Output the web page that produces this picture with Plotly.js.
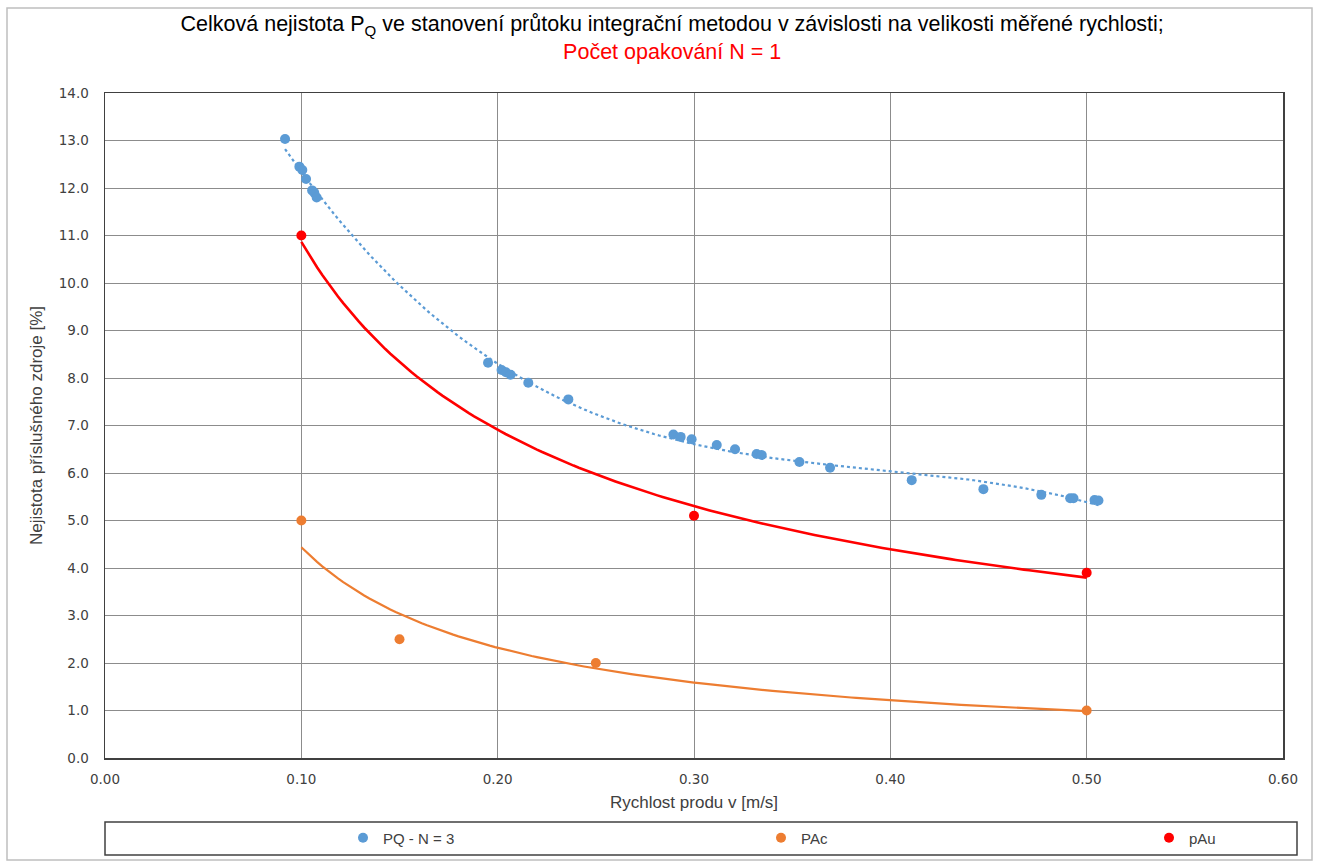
<!DOCTYPE html>
<html>
<head>
<meta charset="utf-8">
<script src="https://cdn.plot.ly/plotly-3.0.1.min.js"></script>
<style>html,body{margin:0;padding:0;background:#fff;}#chart{width:1318px;height:861px;}</style>
</head>
<body>
<div id="chart"></div>
<script>
// ---- data ----
const pqX = [0.0917, 0.0990, 0.1005, 0.1024, 0.1055, 0.1066, 0.1078,
             0.1951, 0.2020, 0.2042, 0.2066, 0.2156, 0.2360,
             0.2895, 0.2932, 0.2988, 0.3116, 0.3209, 0.3319, 0.3345,
             0.3537, 0.3693, 0.4109, 0.4474, 0.4769, 0.4916, 0.4933, 0.5040, 0.5060];
const pqY = [13.03, 12.45, 12.38, 12.19, 11.95, 11.90, 11.80,
             8.32, 8.17, 8.12, 8.07, 7.90, 7.55,
             6.81, 6.76, 6.71, 6.59, 6.50, 6.40, 6.38,
             6.23, 6.11, 5.85, 5.66, 5.54, 5.47, 5.47, 5.43, 5.42];
const pacX = [0.10, 0.15, 0.25, 0.50];
const pacY = [5.0, 2.5, 2.0, 1.0];
const pauX = [0.10, 0.30, 0.50];
const pauY = [11.0, 5.1, 3.9];

const seriesNames = ['PQ - N = 3', 'PAc', 'pAu'];
const colors = ['#5B9BD5', '#ED7D31', '#FF0000'];

function sampleRange(xs, n) {
  const x0 = Math.min(...xs), x1 = Math.max(...xs), out = [];
  for (let i = 0; i <= n; i++) out.push(x0 + (x1 - x0) * i / n);
  return out;
}
// power trendline (least squares in log-log space)
function powerTrend(xs, ys, n) {
  const lx = xs.map(Math.log), ly = ys.map(Math.log);
  const m = lx.length;
  const mx = lx.reduce((a, b) => a + b, 0) / m;
  const my = ly.reduce((a, b) => a + b, 0) / m;
  let sxy = 0, sxx = 0;
  for (let i = 0; i < m; i++) { sxy += (lx[i] - mx) * (ly[i] - my); sxx += (lx[i] - mx) ** 2; }
  const b = sxy / sxx, a = Math.exp(my - b * mx);
  const tx = sampleRange(xs, n);
  return {x: tx, y: tx.map(x => a * Math.pow(x, b))};
}
// polynomial trendline (least squares)
function polyTrend(xs, ys, order, n) {
  const k = order + 1;
  const A = Array.from({length: k}, () => new Array(k + 1).fill(0));
  for (let i = 0; i < xs.length; i++) {
    for (let r = 0; r < k; r++) {
      for (let c = 0; c < k; c++) A[r][c] += Math.pow(xs[i], r + c);
      A[r][k] += ys[i] * Math.pow(xs[i], r);
    }
  }
  for (let p = 0; p < k; p++) {
    let best = p;
    for (let r = p + 1; r < k; r++) if (Math.abs(A[r][p]) > Math.abs(A[best][p])) best = r;
    [A[p], A[best]] = [A[best], A[p]];
    for (let r = 0; r < k; r++) {
      if (r === p) continue;
      const f = A[r][p] / A[p][p];
      for (let c = p; c <= k; c++) A[r][c] -= f * A[p][c];
    }
  }
  const coef = A.map((row, i) => row[k] / row[i]);
  const tx = sampleRange(xs, n);
  return {x: tx, y: tx.map(x => coef.reduce((s, c, i) => s + c * Math.pow(x, i), 0))};
}

const tPQ = polyTrend(pqX, pqY, 3, 150);
const tAc = powerTrend(pacX, pacY, 150);
const tAu = powerTrend(pauX, pauY, 150);

const traces = [
  {x: tPQ.x, y: tPQ.y, mode: 'lines', line: {color: colors[0], width: 2.2, dash: 'dot'}, showlegend: false, hoverinfo: 'skip'},
  {x: tAc.x, y: tAc.y, mode: 'lines', line: {color: colors[1], width: 2.2}, showlegend: false, hoverinfo: 'skip'},
  {x: tAu.x, y: tAu.y, mode: 'lines', line: {color: colors[2], width: 2.6}, showlegend: false, hoverinfo: 'skip'},
  {x: pqX, y: pqY, name: seriesNames[0], mode: 'markers', marker: {color: colors[0], size: 10}, legend: 'legend'},
  {x: pacX, y: pacY, name: seriesNames[1], mode: 'markers', marker: {color: colors[1], size: 10}, legend: 'legend2'},
  {x: pauX, y: pauY, name: seriesNames[2], mode: 'markers', marker: {color: colors[2], size: 10}, legend: 'legend3'}
];

const titleFont = 'Liberation Sans Narrow, Arial Narrow, sans-serif';
const tickFont = {family: 'DejaVu Sans, Verdana, sans-serif', size: 13.5, color: '#404040'};
const legendFont = {family: titleFont, size: 15, color: '#404040'};

function legendAt(px) {
  return {
    orientation: 'h', xref: 'container', x: px / 1318, xanchor: 'left',
    yref: 'container', y: 1 - 838 / 861, yanchor: 'middle',
    font: legendFont, bgcolor: 'rgba(0,0,0,0)', borderwidth: 0, itemwidth: 30
  };
}

const layout = {
  width: 1318, height: 861,
  paper_bgcolor: '#fff', plot_bgcolor: '#fff',
  margin: {l: 105, r: 35, t: 93, b: 103},
  title: {
    text: 'Celková nejistota P<sub>Q</sub> ve stanovení průtoku integrační metodou v závislosti na velikosti měřené rychlosti;<br><span style="color:#FF0000">Počet opakování N = 1</span>',
    font: {family: titleFont, size: 21.5, color: '#000'},
    xref: 'container', x: 0.51, xanchor: 'center',
    yref: 'container', y: 1 - 31 / 861, yanchor: 'middle'
  },
  xaxis: {
    range: [0, 0.6], dtick: 0.1, tick0: 0, tickformat: '.2f',
    showgrid: true, gridcolor: '#8c8c8c', gridwidth: 1,
    zeroline: false, showline: true, linecolor: '#404040', linewidth: 1.5, mirror: true,
    ticks: '', ticklabelstandoff: 8, tickfont: tickFont,
    title: {text: 'Rychlost produ v [m/s]', font: {family: titleFont, size: 17, color: '#404040'}, standoff: 10}
  },
  yaxis: {
    range: [0, 14], dtick: 1, tick0: 0, tickformat: '.1f',
    showgrid: true, gridcolor: '#8c8c8c', gridwidth: 1,
    zeroline: false, showline: true, linecolor: '#404040', linewidth: 1.5, mirror: true,
    ticks: '', ticklabelstandoff: 12, tickfont: tickFont,
    title: {text: 'Nejistota příslušného zdroje [%]', font: {family: titleFont, size: 17, color: '#404040'}, standoff: 12}
  },
  legend: legendAt(343),
  legend2: legendAt(761),
  legend3: legendAt(1149),
  shapes: [
    {type: 'rect', xref: 'paper', yref: 'paper', x0: 0, x1: (1297 - 105) / 1178, y0: -(855 - 758) / 665, y1: -(822 - 758) / 665,
     line: {color: '#404040', width: 1.5}, fillcolor: 'rgba(0,0,0,0)', layer: 'below'},
    {type: 'rect', xref: 'paper', yref: 'paper', x0: (7 - 105) / 1178, x1: (1312 - 105) / 1178, y0: (758 - 860) / 665, y1: (758 - 8) / 665,
     line: {color: '#bfbfbf', width: 1.5}, fillcolor: 'rgba(0,0,0,0)', layer: 'below'}
  ]
};

Plotly.newPlot('chart', traces, layout, {displayModeBar: false, staticPlot: true});
</script>
</body>
</html>
